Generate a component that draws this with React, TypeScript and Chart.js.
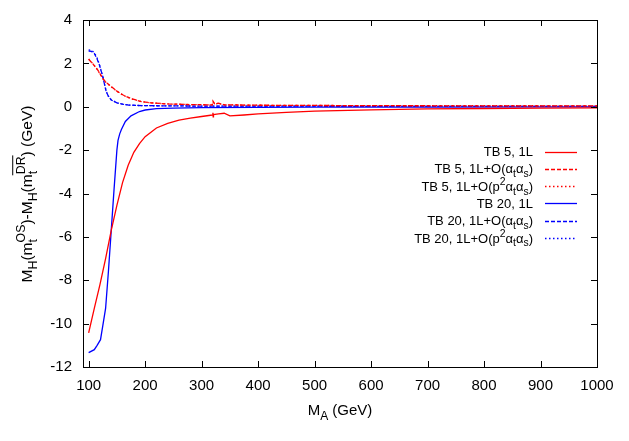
import React, { useEffect, useRef } from "react";
import { Chart, registerables } from "chart.js";
Chart.register(...registerables);

const FONT = "'Liberation Sans', Arial, Helvetica, sans-serif";
const FS = 14;
const TICK_FS = 15;
const LEG_FS = 13;
const YT_FS = 15.5;

const xTicks = [100, 200, 300, 400, 500, 600, 700, 800, 900, 1000];
const yTicks = [4, 2, 0, -2, -4, -6, -8, -10, -12];

// TB 5, 1L
const x5_1L = [100, 110, 120, 130, 140, 150, 160, 170, 180, 190, 200, 220, 240, 260, 280, 300, 319, 320, 320.5, 321, 330, 340, 350, 375, 400, 450, 500, 600, 700, 800, 900, 1000];
const y5_1L = [-10.43, -9.3, -8.2, -7.0, -5.7, -4.55, -3.5, -2.7, -2.1, -1.7, -1.38, -0.98, -0.77, -0.62, -0.52, -0.45, -0.38, -0.28, -0.47, -0.36, -0.33, -0.3, -0.42, -0.38, -0.33, -0.26, -0.2, -0.14, -0.1, -0.08, -0.06, -0.05];
// TB 5, 1L+O(at as)
const x5_a = [100, 105, 110, 116, 125, 130, 140, 150, 161, 175, 193, 210, 240, 280, 310, 319, 320, 323, 330, 340, 400, 500, 600, 800, 1000];
const y5_a = [2.19, 2.05, 1.9, 1.7, 1.31, 1.15, 0.93, 0.72, 0.54, 0.38, 0.24, 0.18, 0.13, 0.1, 0.09, 0.09, 0.26, 0.14, 0.16, 0.09, 0.07, 0.06, 0.05, 0.04, 0.04];
// TB 5, 1L+O(p^2 at as)
const y5_b = [2.2, 2.06, 1.9, 1.69, 1.3, 1.14, 0.92, 0.71, 0.53, 0.37, 0.24, 0.18, 0.13, 0.1, 0.09, 0.09, 0.22, 0.13, 0.15, 0.09, 0.07, 0.06, 0.05, 0.05, 0.04];
// TB 20, 1L
const x20_1L = [100, 110, 115, 121, 125, 130, 135, 140, 145, 150, 152, 155, 158, 165, 175, 190, 200, 220, 250, 300, 400, 500, 700, 1000];
const y20_1L = [-11.34, -11.2, -11.0, -10.74, -10.1, -9.3, -7.6, -5.7, -3.8, -2.0, -1.55, -1.25, -1.05, -0.68, -0.42, -0.22, -0.15, -0.09, -0.06, -0.04, -0.03, -0.02, -0.02, -0.01];
// TB 20, 1L+O(at as)
const x20_a = [100, 105, 110, 115, 119, 125, 131, 135, 140, 150, 160, 170, 185, 200, 250, 300, 400, 600, 1000];
const y20_a = [2.57, 2.55, 2.46, 2.2, 1.93, 1.39, 0.7, 0.48, 0.31, 0.18, 0.12, 0.08, 0.06, 0.05, 0.04, 0.03, 0.03, 0.02, 0.02];
// TB 20, 1L+O(p^2 at as)
const y20_b = [2.62, 2.6, 2.5, 2.25, 1.95, 1.4, 0.72, 0.49, 0.32, 0.18, 0.12, 0.08, 0.06, 0.05, 0.04, 0.03, 0.03, 0.02, 0.02];

type Seg = { t?: string; k?: "sub" | "sup" | "stack"; sub?: string; sup?: string; over?: boolean };

const aa: Seg[] = [{ t: "α" }, { t: "t", k: "sub" }, { t: "α" }, { t: "s", k: "sub" }, { t: ")" }];
const legendRich: Seg[][] = [
  [{ t: "TB 5, 1L" }],
  [{ t: "TB 5, 1L+O(" }, ...aa],
  [{ t: "TB 5, 1L+O(p" }, { t: "2", k: "sup" }, ...aa],
  [{ t: "TB 20, 1L" }],
  [{ t: "TB 20, 1L+O(" }, ...aa],
  [{ t: "TB 20, 1L+O(p" }, { t: "2", k: "sup" }, ...aa],
];

const yTitle: Seg[] = [
  { t: "M" }, { t: "H", k: "sub" }, { t: "(m" }, { k: "stack", sub: "t", sup: "OS" }, { t: ")-M" }, { t: "H", k: "sub" },
  { t: "(m" }, { k: "stack", sub: "t", sup: "DR", over: true }, { t: ") (GeV)" },
];
const xTitle: Seg[] = [{ t: "M" }, { t: "A", k: "sub" }, { t: " (GeV)" }];

const font = (s: number) => `${s}px ${FONT}`;

function segW(ctx: CanvasRenderingContext2D, s: Seg, sz: number) {
  if (s.k === "stack") {
    ctx.font = font(sz * 0.8);
    return Math.max(ctx.measureText(s.sub || "").width, ctx.measureText(s.sup || "").width);
  }
  ctx.font = font(s.k ? sz * 0.8 : sz);
  return ctx.measureText(s.t || "").width;
}

function drawRich(ctx: CanvasRenderingContext2D, segs: Seg[], x: number, y: number, sz: number, align: string) {
  const w = segs.reduce((a, s) => a + segW(ctx, s, sz), 0);
  let cx = align === "right" ? x - w : align === "center" ? x - w / 2 : x;
  ctx.textAlign = "left";
  ctx.textBaseline = "alphabetic";
  for (const s of segs) {
    const sw = segW(ctx, s, sz);
    if (s.k === "stack") {
      ctx.font = font(sz * 0.8);
      ctx.fillText(s.sub || "", cx, y + sz * 0.3);
      ctx.fillText(s.sup || "", cx, y - sz * 0.45);
      if (s.over) {
        const oy = y - sz * 0.45 - sz * 0.8 * 0.75 - 3;
        ctx.beginPath();
        ctx.lineWidth = 1;
        ctx.moveTo(cx - 1, oy);
        ctx.lineTo(cx + sw + 1, oy);
        ctx.stroke();
      }
    } else if (s.k === "sub") {
      ctx.font = font(sz * 0.8);
      ctx.fillText(s.t || "", cx, y + sz * 0.3);
    } else if (s.k === "sup") {
      ctx.font = font(sz * 0.8);
      ctx.fillText(s.t || "", cx, y - sz * 0.45);
    } else {
      ctx.font = font(sz);
      ctx.fillText(s.t || "", cx, y);
    }
    cx += sw;
  }
}

const pts = (xs: number[], ys: number[]) => xs.map((x, i) => ({ x, y: ys[i] }));

const RED = "#ff0000";
const BLUE = "#0000ff";
const DASH = [4, 2];
const DOT = [1.5, 2.5];

const framePlugin = {
  id: "frameLegend",
  afterDatasetsDraw(chart: any) {
    const ctx: CanvasRenderingContext2D = chart.ctx;
    const { left, right, top, bottom } = chart.chartArea;
    const xs = chart.scales.x;
    const ys = chart.scales.y;
    ctx.save();
    ctx.strokeStyle = "#000";
    ctx.lineWidth = 1;
    ctx.setLineDash([]);
    ctx.strokeRect(Math.round(left) + 0.5, Math.round(top) + 0.5, Math.round(right - left), Math.round(bottom - top));
    const TL = 6;
    ctx.beginPath();
    for (const v of xTicks) {
      const px = Math.round(xs.getPixelForValue(v)) + 0.5;
      ctx.moveTo(px, bottom);
      ctx.lineTo(px, bottom - TL);
      ctx.moveTo(px, top);
      ctx.lineTo(px, top + TL);
    }
    for (const v of yTicks) {
      const py = Math.round(ys.getPixelForValue(v)) + 0.5;
      ctx.moveTo(left, py);
      ctx.lineTo(left + TL, py);
      ctx.moveTo(right, py);
      ctx.lineTo(right - TL, py);
    }
    ctx.stroke();

    // legend
    ctx.fillStyle = "#000";
    chart.data.datasets.forEach((ds: any, i: number) => {
      const cy = 151.5 + i * 17.3;
      drawRich(ctx, legendRich[i], 533, cy + LEG_FS * 0.35, LEG_FS, "right");
      ctx.beginPath();
      ctx.strokeStyle = ds.borderColor;
      ctx.lineWidth = ds.borderWidth;
      ctx.setLineDash(ds.borderDash || []);
      ctx.moveTo(545, Math.round(cy) + 0.5);
      ctx.lineTo(577, Math.round(cy) + 0.5);
      ctx.stroke();
    });
    ctx.setLineDash([]);
    ctx.strokeStyle = "#000";
    ctx.fillStyle = "#000";

    // x title
    drawRich(ctx, xTitle, (left + right) / 2, 415, TICK_FS, "center");
    // y title
    ctx.save();
    ctx.translate(27, 194);
    ctx.rotate(-Math.PI / 2);
    drawRich(ctx, yTitle, 0, 5, YT_FS, "center");
    ctx.restore();
    ctx.restore();
  },
};

export default function App() {
  const ref = useRef<HTMLCanvasElement>(null);
  useEffect(() => {
    document.body.style.margin = "0";
    const mk = (label: string, xs: number[], ys: number[], color: string, dash: number[]) => ({
      label,
      data: pts(xs, ys),
      borderColor: color,
      backgroundColor: color,
      borderWidth: 1.3,
      borderDash: dash,
      pointRadius: 0,
      tension: 0,
      fill: false,
    });
    const chart = new Chart(ref.current!, {
      type: "line",
      data: {
        datasets: [
          mk("TB 5, 1L", x5_1L, y5_1L, RED, []),
          mk("TB 5, 1L+O(αtαs)", x5_a, y5_a, RED, DASH),
          mk("TB 5, 1L+O(p2αtαs)", x5_a, y5_b, RED, DOT),
          mk("TB 20, 1L", x20_1L, y20_1L, BLUE, []),
          mk("TB 20, 1L+O(αtαs)", x20_a, y20_a, BLUE, DASH),
          mk("TB 20, 1L+O(p2αtαs)", x20_a, y20_b, BLUE, DOT),
        ],
      },
      options: {
        animation: false,
        responsive: true,
        maintainAspectRatio: false,
        layout: { padding: { left: 0, top: 20, right: 32, bottom: 0 } },
        plugins: { legend: { display: false }, tooltip: { enabled: false } },
        scales: {
          x: {
            type: "linear",
            min: 90,
            max: 1000,
            afterBuildTicks: (s: any) => { s.ticks = xTicks.map((v) => ({ value: v })); },
            afterFit: (s: any) => { s.height = 74; },
            grid: { display: false, drawTicks: false },
            border: { display: false },
            ticks: { color: "#000", font: { family: FONT, size: TICK_FS }, padding: 10, maxRotation: 0, autoSkip: false, callback: (v: any) => String(v) },
          },
          y: {
            type: "linear",
            min: -12,
            max: 4,
            afterBuildTicks: (s: any) => { s.ticks = yTicks.map((v) => ({ value: v })); },
            afterFit: (s: any) => { s.width = 83; },
            grid: { display: false, drawTicks: false },
            border: { display: false },
            ticks: { color: "#000", font: { family: FONT, size: TICK_FS }, padding: 11, autoSkip: false, callback: (v: any) => String(v) },
          },
        },
      },
      plugins: [framePlugin],
    });
    return () => chart.destroy();
  }, []);
  return (
    <div style={{ width: 629, height: 441, position: "relative" }}>
      <canvas ref={ref} />
    </div>
  );
}
